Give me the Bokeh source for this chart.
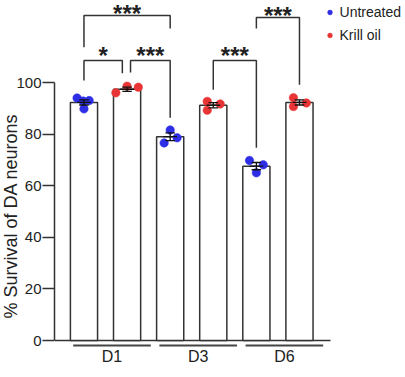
from bokeh.plotting import figure
from bokeh.models import FixedTicker, Legend, LegendItem, Range1d, Title
from bokeh.core.properties import value
from bokeh.embed import file_html
from bokeh.resources import INLINE

# ---------------- data ----------------
groups = ["D1", "D3", "D6"]
treatments = ["Untreated", "Krill oil"]
colors = ["#2e2ee6", "#e83434"]

mean_untreated = [92.3, 79.0, 67.6]
mean_krill = [97.4, 91.2, 92.3]
sem_untreated = [1.0, 1.5, 1.4]
sem_krill = [0.8, 1.0, 1.0]

pts_untreated = [[94.0, 92.8, 93.0, 89.8], [81.6, 78.6, 76.6], [69.8, 68.1, 65.0]]
pts_krill = [[96.0, 98.6, 98.2], [92.7, 89.3, 91.7], [94.1, 90.7, 92.1]]
jit_untreated = [[-0.16, -0.02, 0.12, 0.0], [0.0, 0.16, -0.14], [-0.16, 0.16, 0.0]]
jit_krill = [[-0.26, 0.0, 0.26], [-0.14, -0.14, 0.16], [-0.14, -0.14, 0.16]]

y_ticks = [0, 20, 40, 60, 80, 100]
y_title = "% Survival of DA neurons"

# significance brackets (bar numbers 1..6 from left)
sig_bar_a = [1, 1, 2, 4, 5]
sig_bar_b = [3, 2, 3, 5, 6]
sig_top = [126.0, 108.5, 108.5, 108.5, 125.2]
sig_end_a = [113.7, 100.8, 103.9, 97.2, 120.9]
sig_end_b = [120.9, 103.6, 86.4, 74.7, 99.1]
sig_shift_a = [0.0, 0.0, 0.08, 0.0, 0.0]
sig_shift_b = [0.0, -0.11, 0.0, 0.0, 0.0]
sig_text = ["***", "*", "***", "***", "***"]
sig_lift = [-15, -19, -19, -19, -16]   # star placement above each bracket, px

# ---------------- layout helpers ----------------
FONT = value("Liberation Sans")
INK = "#333333"
BAR_W = 0.63

def bar_x(gi, ti):
    return 2 * gi + ti + 1

p = figure(width=405, height=377,
           x_range=Range1d(0.316, 8.46), y_range=Range1d(-12.0, 131.8),
           x_axis_location=None, output_backend="svg", toolbar_location=None,
           min_border_left=54, min_border_right=0, min_border_top=0, min_border_bottom=6)
p.outline_line_color = None
p.grid.visible = False
p.background_fill_color = "white"

# y axis
ax = p.yaxis[0]
ax.ticker = FixedTicker(ticks=y_ticks)
ax.bounds = (0, 100)
ax.major_tick_out = 12
ax.major_tick_in = 0
ax.minor_tick_line_color = None
ax.axis_line_width = 1.5
ax.axis_line_color = INK
ax.major_tick_line_width = 1.5
ax.major_tick_line_color = INK
ax.major_label_standoff = 1
ax.major_label_text_font = "Liberation Sans"
ax.major_label_text_font_size = "15px"
ax.major_label_text_color = "#222222"

# y title as a left-side title, started near the 0 tick like the source
p.add_layout(Title(text=y_title, align="left", offset=53, standoff=-14,
                   text_font="Liberation Sans", text_font_size="18px",
                   text_font_style="normal", text_color="#222222"), "left")

# x axis line (no ticks)
p.segment(x0=[0.316], y0=[0], x1=[6.72], y1=[0], line_color=INK, line_width=1.5)

# bars
xs, tops, sems = [], [], []
for gi in range(len(groups)):
    for ti, (m, s) in enumerate([(mean_untreated[gi], sem_untreated[gi]), (mean_krill[gi], sem_krill[gi])]):
        xs.append(bar_x(gi, ti)); tops.append(m); sems.append(s)
p.vbar(x=xs, top=tops, bottom=0, width=BAR_W, fill_color="white", line_color=INK, line_width=1.5)

# points
pt_renderers = []
for ti, (pts, jit) in enumerate([(pts_untreated, jit_untreated), (pts_krill, jit_krill)]):
    px, py = [], []
    for gi in range(len(groups)):
        for v, j in zip(pts[gi], jit[gi]):
            px.append(bar_x(gi, ti) + j); py.append(v)
    pt_renderers.append(p.scatter(x=px, y=py, size=8.5, fill_color=colors[ti],
                                  line_color=colors[ti], line_width=0.5))

# error bars (mean +/- SEM)
cap = 0.11
lo = [t - s for t, s in zip(tops, sems)]
hi = [t + s for t, s in zip(tops, sems)]
p.segment(x0=xs, y0=lo, x1=xs, y1=hi, line_color="#111111", line_width=1.3)
p.segment(x0=[x - cap for x in xs], y0=hi, x1=[x + cap for x in xs], y1=hi, line_color="#111111", line_width=1.3)
p.segment(x0=[x - cap for x in xs], y0=lo, x1=[x + cap for x in xs], y1=lo, line_color="#111111", line_width=1.3)
p.segment(x0=[x - 0.16 for x in xs], y0=tops, x1=[x + 0.16 for x in xs], y1=tops,
          line_color="#111111", line_width=1.3)

# group underlines and labels
g_center = [2 * gi + 1.5 + 0.15 for gi in range(len(groups))]
p.segment(x0=[c - 0.9 for c in g_center], y0=[-1.9] * 3, x1=[c + 0.9 for c in g_center], y1=[-1.9] * 3,
          line_color="#444444", line_width=2)
p.text(x=g_center, y=[-6.3] * 3, text=groups, text_font=FONT, text_font_size="16px",
       text_align="center", text_baseline="middle", text_color="#222222")

# significance brackets
bxs, bys, sx, sy = [], [], [], []
for a, b, top, ea, eb, da, db in zip(sig_bar_a, sig_bar_b, sig_top, sig_end_a, sig_end_b, sig_shift_a, sig_shift_b):
    xa, xb = a + da, b + db
    bxs.append([xa, xa, xb, xb]); bys.append([ea, top, top, eb])
    sx.append((xa + xb) / 2); sy.append(top)
p.multi_line(xs=bxs, ys=bys, line_color=INK, line_width=1.5)
p.text(x=sx, y=sy, text=sig_text, y_offset=sig_lift, text_font=FONT, text_font_style="bold",
       text_font_size="24px", text_align="center", text_baseline="top", text_color="#222222")

# legend
legend = Legend(items=[LegendItem(label=treatments[0], renderers=[pt_renderers[0]]),
                       LegendItem(label=treatments[1], renderers=[pt_renderers[1]])],
                location="top_right", margin=4, padding=0, spacing=7,
                glyph_width=12, glyph_height=14, label_height=14, label_standoff=4,
                label_text_font="Liberation Sans", label_text_font_size="14px",
                label_text_color="#222222", border_line_color=None, background_fill_alpha=0)
p.add_layout(legend)

open("out.html", "w").write(file_html(p, INLINE))
